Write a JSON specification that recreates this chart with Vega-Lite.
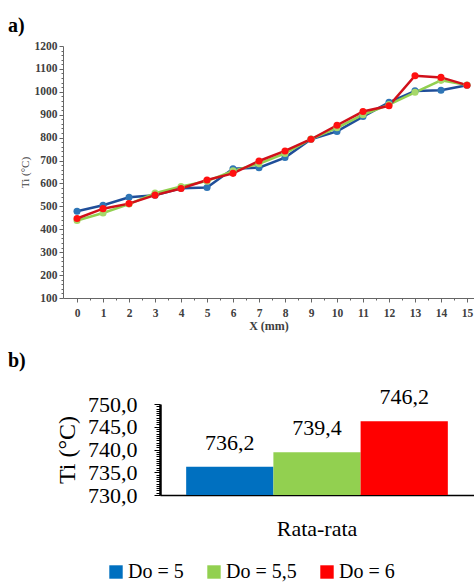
{
  "$schema": "https://vega.github.io/schema/vega-lite/v6.json",
  "background": "white",
  "padding": {"left": 8, "top": 16, "right": 0, "bottom": 2},
  "spacing": 19,
  "config": {
    "view": {"stroke": null},
    "font": "Liberation Serif",
    "axis": {"labelFont": "Liberation Serif", "titleFont": "Liberation Serif"},
    "legend": {"labelFont": "Liberation Serif"},
    "locale": {"number": {"decimal": ",", "thousands": ".", "grouping": [3], "currency": ["", ""]}}
  },
  "resolve": {"scale": {"color": "independent", "fill": "independent"}, "legend": {"color": "independent"}},
  "vconcat": [
    {
      "width": 411,
      "height": 252,
      "title": {"text": "a)", "anchor": "start", "frame": "group", "dx": -55, "fontSize": 20, "fontWeight": "bold", "font": "Liberation Serif", "color": "black", "offset": 4},
      "data": {"values": [
        {"X": 0, "Do": "Do = 5", "Ti": 479}, {"X": 1, "Do": "Do = 5", "Ti": 505}, {"X": 2, "Do": "Do = 5", "Ti": 540}, {"X": 3, "Do": "Do = 5", "Ti": 549},
        {"X": 4, "Do": "Do = 5", "Ti": 579}, {"X": 5, "Do": "Do = 5", "Ti": 582}, {"X": 6, "Do": "Do = 5", "Ti": 664}, {"X": 7, "Do": "Do = 5", "Ti": 669},
        {"X": 8, "Do": "Do = 5", "Ti": 713}, {"X": 9, "Do": "Do = 5", "Ti": 793}, {"X": 10, "Do": "Do = 5", "Ti": 827}, {"X": 11, "Do": "Do = 5", "Ti": 892},
        {"X": 12, "Do": "Do = 5", "Ti": 954}, {"X": 13, "Do": "Do = 5", "Ti": 1004}, {"X": 14, "Do": "Do = 5", "Ti": 1007}, {"X": 15, "Do": "Do = 5", "Ti": 1029},
        {"X": 0, "Do": "Do = 5,5", "Ti": 438}, {"X": 1, "Do": "Do = 5,5", "Ti": 471}, {"X": 2, "Do": "Do = 5,5", "Ti": 510}, {"X": 3, "Do": "Do = 5,5", "Ti": 558},
        {"X": 4, "Do": "Do = 5,5", "Ti": 587}, {"X": 5, "Do": "Do = 5,5", "Ti": 610}, {"X": 6, "Do": "Do = 5,5", "Ti": 655}, {"X": 7, "Do": "Do = 5,5", "Ti": 686},
        {"X": 8, "Do": "Do = 5,5", "Ti": 731}, {"X": 9, "Do": "Do = 5,5", "Ti": 794}, {"X": 10, "Do": "Do = 5,5", "Ti": 843}, {"X": 11, "Do": "Do = 5,5", "Ti": 900},
        {"X": 12, "Do": "Do = 5,5", "Ti": 944}, {"X": 13, "Do": "Do = 5,5", "Ti": 998}, {"X": 14, "Do": "Do = 5,5", "Ti": 1050}, {"X": 15, "Do": "Do = 5,5", "Ti": 1030},
        {"X": 0, "Do": "Do = 6", "Ti": 447}, {"X": 1, "Do": "Do = 6", "Ti": 490}, {"X": 2, "Do": "Do = 6", "Ti": 512}, {"X": 3, "Do": "Do = 6", "Ti": 549},
        {"X": 4, "Do": "Do = 6", "Ti": 578}, {"X": 5, "Do": "Do = 6", "Ti": 615}, {"X": 6, "Do": "Do = 6", "Ti": 644}, {"X": 7, "Do": "Do = 6", "Ti": 698},
        {"X": 8, "Do": "Do = 6", "Ti": 742}, {"X": 9, "Do": "Do = 6", "Ti": 793}, {"X": 10, "Do": "Do = 6", "Ti": 854}, {"X": 11, "Do": "Do = 6", "Ti": 914},
        {"X": 12, "Do": "Do = 6", "Ti": 939}, {"X": 13, "Do": "Do = 6", "Ti": 1070}, {"X": 14, "Do": "Do = 6", "Ti": 1063}, {"X": 15, "Do": "Do = 6", "Ti": 1029}
      ]},
      "encoding": {
        "x": {
          "field": "X", "type": "quantitative",
          "scale": {"domain": [-0.54, 15.27], "nice": false, "zero": false},
          "axis": {
            "title": "X (mm)", "titleFont": "Liberation Serif", "titleFontSize": 12, "titleFontWeight": "bold", "titleColor": "#404040", "titlePadding": 2,
            "values": [0, 0.5, 1, 1.5, 2, 2.5, 3, 3.5, 4, 4.5, 5, 5.5, 6, 6.5, 7, 7.5, 8, 8.5, 9, 9.5, 10, 10.5, 11, 11.5, 12, 12.5, 13, 13.5, 14, 14.5, 15],
            "labelExpr": "datum.value % 1 === 0 ? format(datum.value, 'd') : ''",
            "labelFont": "Liberation Serif", "labelFontSize": 11.5, "labelFontWeight": "bold", "labelColor": "#404040", "labelPadding": 5,
            "tickColor": "#666", "tickSize": {"condition": {"test": "datum.value % 1 === 0", "value": 4}, "value": 2},
            "domainColor": "#666", "grid": false, "labelFlush": false, "labelOverlap": false
          }
        },
        "y": {
          "field": "Ti", "type": "quantitative",
          "scale": {"domain": [100, 1200], "nice": false},
          "axis": {
            "title": "Ti (°C)", "titleFont": "Liberation Serif", "titleFontSize": 11, "titleFontWeight": "normal", "titleColor": "#404040", "titlePadding": 4,
            "values": [100, 120, 140, 160, 180, 200, 220, 240, 260, 280, 300, 320, 340, 360, 380, 400, 420, 440, 460, 480, 500, 520, 540, 560, 580, 600, 620, 640, 660, 680, 700, 720, 740, 760, 780, 800, 820, 840, 860, 880, 900, 920, 940, 960, 980, 1000, 1020, 1040, 1060, 1080, 1100, 1120, 1140, 1160, 1180, 1200],
            "labelExpr": "datum.value % 100 === 0 ? format(datum.value, 'd') : ''",
            "labelFont": "Liberation Serif", "labelFontSize": 11.5, "labelFontWeight": "bold", "labelColor": "#404040", "labelPadding": 2,
            "tickColor": "#666", "tickSize": {"condition": {"test": "datum.value % 100 === 0", "value": 4}, "value": 2},
            "domainColor": "#666", "grid": false, "labelOverlap": false, "labelFlush": false
          }
        }
      },
      "layer": [
        {
          "mark": {"type": "line", "strokeWidth": 2.5},
          "encoding": {
            "color": {"field": "Do", "type": "nominal", "scale": {"domain": ["Do = 5", "Do = 5,5", "Do = 6"], "range": ["#1F4E99", "#92D050", "#D0101A"]}, "legend": null}
          }
        },
        {
          "mark": {"type": "point", "filled": true, "size": 50, "opacity": 1},
          "encoding": {
            "fill": {"field": "Do", "type": "nominal", "scale": {"domain": ["Do = 5", "Do = 5,5", "Do = 6"], "range": ["#2E75B6", "#A6D86A", "#FF1010"]}, "legend": null}
          }
        }
      ]
    },
    {
      "width": 411,
      "height": 91,
      "title": {"text": "b)", "anchor": "start", "frame": "group", "dx": -55, "fontSize": 20, "fontWeight": "bold", "font": "Liberation Serif", "color": "black", "offset": 15},
      "data": {"values": [
        {"grp": "Rata-rata", "Do": "Do = 5", "Ti": 736.2},
        {"grp": "Rata-rata", "Do": "Do = 5,5", "Ti": 739.4},
        {"grp": "Rata-rata", "Do": "Do = 6", "Ti": 746.2}
      ]},
      "encoding": {
        "x": {
          "field": "grp", "type": "nominal",
          "scale": {"range": [97, 411], "paddingInner": 0, "paddingOuter": 0.1},
          "axis": {"title": null, "labelAngle": 0, "ticks": false, "domainColor": "black", "domainWidth": 1.5, "labelFontSize": 22, "labelColor": "black", "labelPadding": 23, "labelFont": "Liberation Serif"}
        },
        "xOffset": {"field": "Do", "type": "nominal", "sort": ["Do = 5", "Do = 5,5", "Do = 6"], "scale": {"paddingInner": 0}},
        "y": {
          "field": "Ti", "type": "quantitative",
          "scale": {"domain": [730, 750], "zero": false, "nice": false},
          "axis": {
            "offset": -97,
            "title": "Ti (°C)", "titleFont": "Liberation Serif", "titleFontSize": 24, "titleFontWeight": "normal", "titleColor": "black", "titlePadding": 8,
            "values": [730, 730.5, 731, 731.5, 732, 732.5, 733, 733.5, 734, 734.5, 735, 735.5, 736, 736.5, 737, 737.5, 738, 738.5, 739, 739.5, 740, 740.5, 741, 741.5, 742, 742.5, 743, 743.5, 744, 744.5, 745, 745.5, 746, 746.5, 747, 747.5, 748, 748.5, 749, 749.5, 750],
            "labelExpr": "datum.value % 5 === 0 ? replace(format(datum.value, '.1f'), '.', ',') : ''",
            "labelFontSize": 22, "labelColor": "black", "labelPadding": 17, "labelFont": "Liberation Serif",
            "tickColor": "black", "tickWidth": 1, "tickSize": {"condition": {"test": "datum.value % 5 === 0", "value": 6}, "value": 4},
            "domainColor": "black", "domainWidth": 2.5, "grid": false, "labelOverlap": false, "labelFlush": false
          }
        }
      },
      "layer": [
        {
          "mark": {"type": "bar"},
          "encoding": {
            "y2": {"datum": 730},
            "color": {
              "field": "Do", "type": "nominal",
              "scale": {"domain": ["Do = 5", "Do = 5,5", "Do = 6"], "range": ["#0070C0", "#92D050", "#FF0000"]},
              "legend": {
                "title": null, "orient": "none", "legendX": 43, "legendY": 158, "direction": "horizontal",
                "symbolType": "square", "symbolSize": 180, "symbolStrokeWidth": 0, "symbolOpacity": 1,
                "labelFontSize": 20, "labelFont": "Liberation Serif", "labelColor": "black", "labelOffset": 2, "columnPadding": 20
              }
            }
          }
        },
        {
          "mark": {"type": "text", "dy": -17, "fontSize": 22, "baseline": "alphabetic", "color": "black", "font": "Liberation Serif"},
          "encoding": {"text": {"field": "Ti", "type": "quantitative", "format": ".1f"}}
        }
      ]
    }
  ]
}
